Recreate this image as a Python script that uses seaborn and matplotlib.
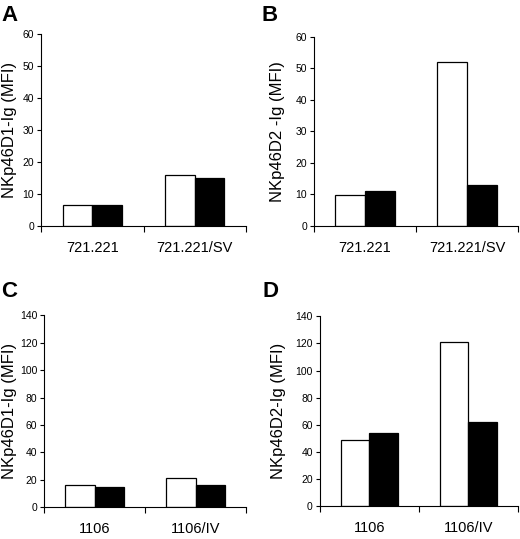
import matplotlib.pyplot as plt
import seaborn as sns
import pandas as pd
from matplotlib.ticker import FixedLocator

# data
cells_top = ['721.221', '721.221/SV']
cells_bottom = ['1106', '1106/IV']
series = ['open', 'filled']

a_open = [6.5, 16]
a_filled = [6.5, 15]
b_open = [9.7, 52]
b_filled = [11, 13]
c_open = [16.5, 21]
c_filled = [15, 16]
d_open = [49, 121]
d_filled = [54, 62]

ylabels = ['NKp46D1-Ig (MFI)', 'NKp46D2 -Ig (MFI)', 'NKp46D1-Ig (MFI)', 'NKp46D2-Ig (MFI)']
letters = ['A', 'B', 'C', 'D']
ymax = [60, 60, 140, 140]
ystep = [10, 10, 20, 20]


def tabla(cells, v_open, v_filled):
    return pd.DataFrame({
        'cell': cells * 2,
        'kind': [series[0]] * 2 + [series[1]] * 2,
        'mfi': list(v_open) + list(v_filled),
    })


datos = [
    tabla(cells_top, a_open, a_filled),
    tabla(cells_top, b_open, b_filled),
    tabla(cells_bottom, c_open, c_filled),
    tabla(cells_bottom, d_open, d_filled),
]

sns.set_style('white')
plt.rcParams['font.family'] = ['Liberation Sans', 'DejaVu Sans']
plt.rcParams['text.color'] = 'black'
plt.rcParams['axes.labelcolor'] = 'black'
plt.rcParams['xtick.color'] = 'black'
plt.rcParams['ytick.color'] = 'black'

fig = plt.figure(figsize=(5.2, 5.39), dpi=100)
posiciones = [
    [0.079, 0.581, 0.394, 0.356],
    [0.604, 0.581, 0.392, 0.351],
    [0.085, 0.059, 0.388, 0.356],
    [0.615, 0.061, 0.381, 0.352],
]
label_x = [-0.117, -0.145, -0.134, -0.172]
letra_pos = [(0.003, 0.99), (0.503, 0.99), (0.003, 0.478), (0.505, 0.478)]

for i, df in enumerate(datos):
    ax = fig.add_axes(posiciones[i])
    sns.barplot(
        data=df, x='cell', y='mfi', hue='kind', palette=['white', 'black'],
        edgecolor='black', linewidth=0.9, width=0.58, legend=False, ax=ax,
    )
    ax.set_xlim(-0.5, 1.5)
    ax.set_ylim(0, ymax[i])
    ax.set_yticks(range(0, ymax[i] + 1, ystep[i]))
    ax.tick_params(axis='y', labelsize=7.5, length=3, width=0.8, direction='out',
                   left=True, pad=2)
    ax.tick_params(axis='x', which='major', length=0, labelsize=10.5, pad=11)
    ax.xaxis.set_minor_locator(FixedLocator([-0.5, 0.5, 1.5]))
    ax.tick_params(axis='x', which='minor', length=4, width=0.8, direction='out',
                   bottom=True)
    ax.set_xlabel('')
    ax.set_ylabel(ylabels[i], fontsize=12)
    ax.yaxis.set_label_coords(label_x[i], 0.5)
    sns.despine(ax=ax)
    for s in ['left', 'bottom']:
        ax.spines[s].set_color('black')
        ax.spines[s].set_linewidth(0.8)
    fig.text(letra_pos[i][0], letra_pos[i][1], letters[i], fontsize=16,
             fontweight='bold', va='top', ha='left')

fig.savefig('out.png', dpi=100)
